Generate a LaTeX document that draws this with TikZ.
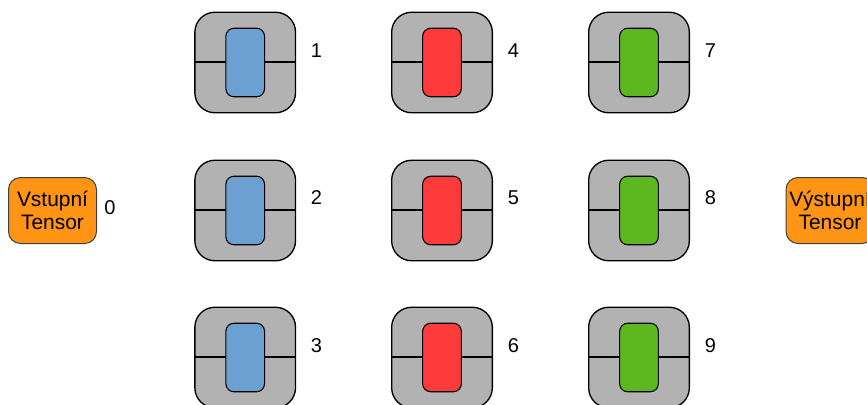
\documentclass[tikz,border=0pt]{standalone}
\usepackage{fontspec}
\setmainfont{Liberation Sans}
\definecolor{bluefill}{HTML}{6C9FD2}
\definecolor{redfill}{HTML}{FF3A3A}
\definecolor{greenfill}{HTML}{5CB81E}
\definecolor{orangefill}{HTML}{FF9415}
\definecolor{grayfill}{HTML}{B2B2B2}
\tikzset{
  outerbox/.style={draw=black,line width=1pt,fill=grayfill,rounded corners=15pt,minimum width=75.5pt,minimum height=75.4pt,inner sep=0pt,outer sep=0pt},
  innerbox/.style={draw=black,line width=0.8pt,rounded corners=6pt,minimum width=29pt,minimum height=51.4pt,inner sep=0pt,outer sep=0pt},
  wire/.style={draw=black,line width=1.5pt},
  tensor/.style={draw=black!75,line width=0.75pt,fill=orangefill,rounded corners=9pt,minimum width=66pt,minimum height=49.5pt,inner sep=0pt,outer sep=0pt,align=center,font=\fontsize{15.7}{17.5}\selectfont},
  idx/.style={font=\fontsize{15}{18}\selectfont,inner sep=0pt}
}
\newcommand{\unitcell}[6]{%
  \node[outerbox] (o#1) at (#2,#3) {};
  \node[innerbox,fill=#4] (i#1) at (#2,#3) {};
  \draw[wire] ([yshift=0.4pt]o#1.west) -- ([yshift=0.4pt]i#1.west);
  \draw[wire] ([yshift=0.4pt]i#1.east) -- ([yshift=0.4pt]o#1.east);
  \node[idx] (n#1) at (#5,#6) {#1};
}
\begin{document}
\begin{tikzpicture}[x=0.75pt,y=-0.75pt]
\useasboundingbox (0,0) rectangle (867,404);
\clip (0,0) rectangle (867,404);
\node[tensor] (input) at (52.5,210.5) {Vstupní\\Tensor};
\node[idx] (n0) at (110,208) {0};
\node[tensor] (output) at (830,210.5) {Výstupní\\Tensor};
\unitcell{1}{245.2}{62.5}{bluefill}{316.5}{51}
\unitcell{2}{245.2}{210.5}{bluefill}{316.5}{198}
\unitcell{3}{245.2}{357.5}{bluefill}{316.5}{346}
\unitcell{4}{442}{62.5}{redfill}{513.5}{51}
\unitcell{5}{442}{210.5}{redfill}{513.5}{198}
\unitcell{6}{442}{357.5}{redfill}{513.5}{346}
\unitcell{7}{639}{62.5}{greenfill}{710.5}{51}
\unitcell{8}{639}{210.5}{greenfill}{710.5}{198}
\unitcell{9}{639}{357.5}{greenfill}{710.5}{346}
\end{tikzpicture}
\end{document}
